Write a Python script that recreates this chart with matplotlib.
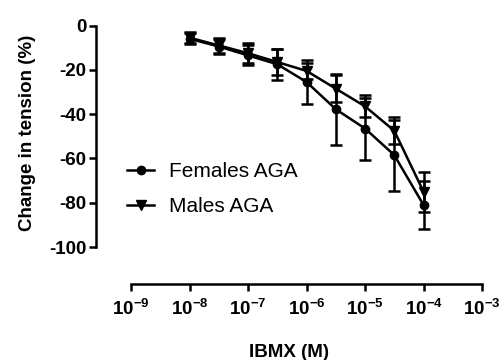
import matplotlib
matplotlib.use("Agg")
import matplotlib.pyplot as plt
import numpy as np

plt.rcParams['font.family'] = ['Liberation Sans', 'DejaVu Sans']
plt.rcParams['mathtext.fontset'] = 'custom'
plt.rcParams['mathtext.rm'] = 'Liberation Sans:bold'
plt.rcParams['mathtext.bf'] = 'Liberation Sans:bold'

# IBMX concentration (M)
conc = [1e-8, 10**-7.5, 1e-7, 10**-6.5, 1e-6, 10**-5.5, 1e-5, 10**-4.5, 1e-4]

females_mean = [-6, -9.5, -13.5, -17.5, -25.5, -37.8, -46.5, -58.5, -81]
females_err = [2.5, 3.5, 4.5, 7, 10, 16, 14, 16, 11]

males_mean = [-5.5, -9, -12.5, -16.5, -20.5, -28.5, -36.5, -47.5, -75]
males_err = [2.5, 3.5, 4.5, 6, 3.5, 6, 5, 6, 9]

xticks = [1e-9, 1e-8, 1e-7, 1e-6, 1e-5, 1e-4, 1e-3]
xtick_labels = [r'$10^{-9}$', r'$10^{-8}$', r'$10^{-7}$', r'$10^{-6}$',
                r'$10^{-5}$', r'$10^{-4}$', r'$10^{-3}$']
yticks = [0, -20, -40, -60, -80, -100]

fig = plt.figure(figsize=(5, 3.6), dpi=100)
ax = fig.add_axes([0.192, 0.211, 0.772, 0.72])

eb_f = ax.errorbar(conc, females_mean, yerr=females_err, color='black', marker='o',
                   markersize=6, linewidth=1.8, elinewidth=1.8, capsize=4.5, capthick=1.8)
eb_m = ax.errorbar(conc, males_mean, yerr=males_err, color='black', marker='v',
                   markersize=6.5, linewidth=1.8, elinewidth=1.8, capsize=4.5, capthick=1.8)

ax.set_xscale('log')
ax.set_xlim(10**-9.6, 1e-3)
ax.set_ylim(-116.7, 0.3)
ax.set_xticks(xticks)
ax.set_xticklabels(xtick_labels, fontsize=13.5)
ax.minorticks_off()
ax.set_yticks(yticks)
ax.set_yticklabels([str(v) for v in yticks], fontsize=13.5, fontweight='bold')

ax.spines['top'].set_visible(False)
ax.spines['right'].set_visible(False)
ax.spines['left'].set_bounds(-100, 0)
ax.spines['bottom'].set_bounds(1e-9, 1e-3)
for s in ['left', 'bottom']:
    ax.spines[s].set_linewidth(1.8)
ax.tick_params(width=1.8, length=5, direction='out')
ax.tick_params(axis='y', pad=2)
ax.tick_params(axis='x', pad=5)

ax.set_ylabel('Change in tension (%)', fontsize=13.5, fontweight='bold')
ax.yaxis.set_label_coords(-0.155, 0.585)
ax.set_xlabel('IBMX (M)', fontsize=13.5, fontweight='bold', labelpad=18)

ax.legend(handles=[eb_f[0], eb_m[0]], labels=['Females AGA', 'Males AGA'],
          loc='upper left', bbox_to_anchor=(0.225, 0.59), bbox_transform=fig.transFigure,
          frameon=False, fontsize=15, handlelength=1.3, handletextpad=0.7,
          labelspacing=0.75, borderpad=0.2)

fig.savefig('out.png', dpi=100)
